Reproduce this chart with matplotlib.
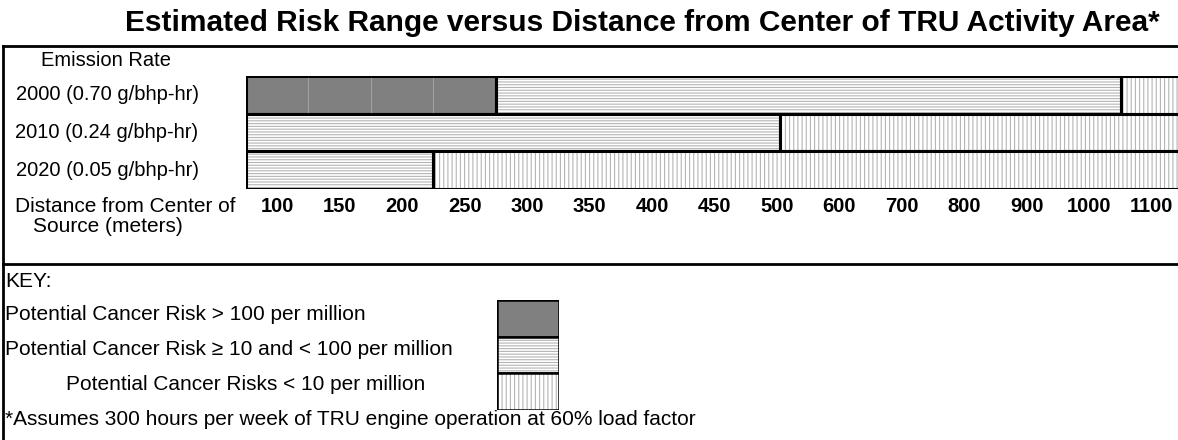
import matplotlib
matplotlib.use("Agg")
import matplotlib.pyplot as plt
from matplotlib.lines import Line2D
from matplotlib.transforms import blended_transform_factory

plt.rcParams["font.family"] = ["Liberation Sans", "DejaVu Sans"]
plt.rcParams["hatch.linewidth"] = 0.8

# ── data ────────────────────────────────────────────────────────────────
title = "Estimated Risk Range versus Distance from Center of TRU Activity Area*"
rows = ["2000 (0.70 g/bhp-hr)", "2010 (0.24 g/bhp-hr)", "2020 (0.05 g/bhp-hr)"]
distances = ["100", "150", "200", "250", "300", "350", "400", "450",
             "500", "600", "700", "800", "900", "1000", "1100"]
# band edges, in distance columns from the first column
high_end = [4, 0, 0]          # risk > 100 per million
mid_end = [14, 8.55, 3]       # risk 10-100 per million
key_labels = ["Potential Cancer Risk > 100 per million",
              "Potential Cancer Risk \u2265 10 and < 100 per million",
              "Potential Cancer Risks < 10 per million"]
footnote = "*Assumes 300 hours per week of TRU engine operation at 60% load factor"

W, H = 1178, 440
FS = 15
FS_ROW = 14.5
fig = plt.figure(figsize=(W / 100, H / 100), dpi=100)


def fy(px):
    return 1 - px / H


def fx(px):
    return px / W


STYLES = [dict(color="#808080", hatch=None),
          dict(color="white", hatch="------"),
          dict(color="white", hatch="||||")]


def band(ax, y, left, width, k, lw=2.2):
    st = STYLES[k]
    ax.barh(y, width, left=left, height=1, color=st["color"],
            hatch=st["hatch"], edgecolor="#b4b4b4", linewidth=0)
    ax.barh(y, width, left=left, height=1, fill=False,
            edgecolor="black", linewidth=lw)


# ── main chart ──────────────────────────────────────────────────────────
ncol = len(distances)
ax = fig.add_axes([fx(246), fy(189), fx(1183 - 246), fy(76) - fy(189)])
for i, lab in enumerate(rows):
    segs = [(0, high_end[i], 0),
            (high_end[i], mid_end[i], 1),
            (mid_end[i], ncol, 2)]
    for a, b, k in segs:
        if b > a:
            band(ax, i + 0.5, a, b - a, k)
    # faint column separators inside the dark band
    for c in range(1, int(high_end[i])):
        ax.plot([c, c], [i + 0.05, i + 0.95], color="#a0a0a0", lw=0.8)

ax.set_xlim(0, ncol)
ax.set_ylim(len(rows), 0)
ax.set_xticks([c + 0.5 for c in range(ncol)])
ax.set_xticklabels(distances, fontsize=14.5, fontweight="bold")
ax.tick_params(axis="x", length=0, pad=6)
ax.set_yticks([])
for s in ax.spines.values():
    s.set_visible(False)

tr = blended_transform_factory(fig.transFigure, ax.transData)
for i, lab in enumerate(rows):
    fig.text(fx(107), 0, lab, transform=tr, fontsize=FS_ROW,
             ha="center", va="center").set_y(i + 0.5)

# ── texts ───────────────────────────────────────────────────────────────
fig.text(fx(642), fy(23), title, fontsize=21.5, fontweight="bold",
         ha="center", va="center")
fig.text(fx(106), fy(60), "Emission Rate", fontsize=FS_ROW,
         ha="center", va="center")
fig.text(fx(125), fy(206), "Distance from Center of", fontsize=FS,
         ha="center", va="center")
fig.text(fx(108), fy(226), "Source (meters)", fontsize=FS,
         ha="center", va="center")
fig.text(fx(5), fy(281), "KEY:", fontsize=FS, ha="left", va="center")
key_x = [5, 5, 66]
key_y = [314, 349, 384]
for lab, x, y in zip(key_labels, key_x, key_y):
    fig.text(fx(x), fy(y), lab, fontsize=FS, ha="left", va="center")
fig.text(fx(5), fy(419), footnote, fontsize=FS, ha="left", va="center")

# ── key swatches ────────────────────────────────────────────────────────
kax = fig.add_axes([fx(497), fy(410), fx(559 - 497), fy(300) - fy(410)])
for k in range(len(key_labels)):
    band(kax, k + 0.5, 0, 1, k, lw=1.8)
kax.set_xlim(0, 1)
kax.set_ylim(len(key_labels), 0)
kax.axis("off")

# ── frame lines ─────────────────────────────────────────────────────────
for xs, ys in [((3, W), (46, 46)), ((3, 3), (46, H)), ((3, W), (264, 264))]:
    fig.add_artist(Line2D([fx(v) for v in xs], [fy(v) for v in ys],
                          color="black", lw=2, transform=fig.transFigure))

fig.savefig("out.png", dpi=100)
